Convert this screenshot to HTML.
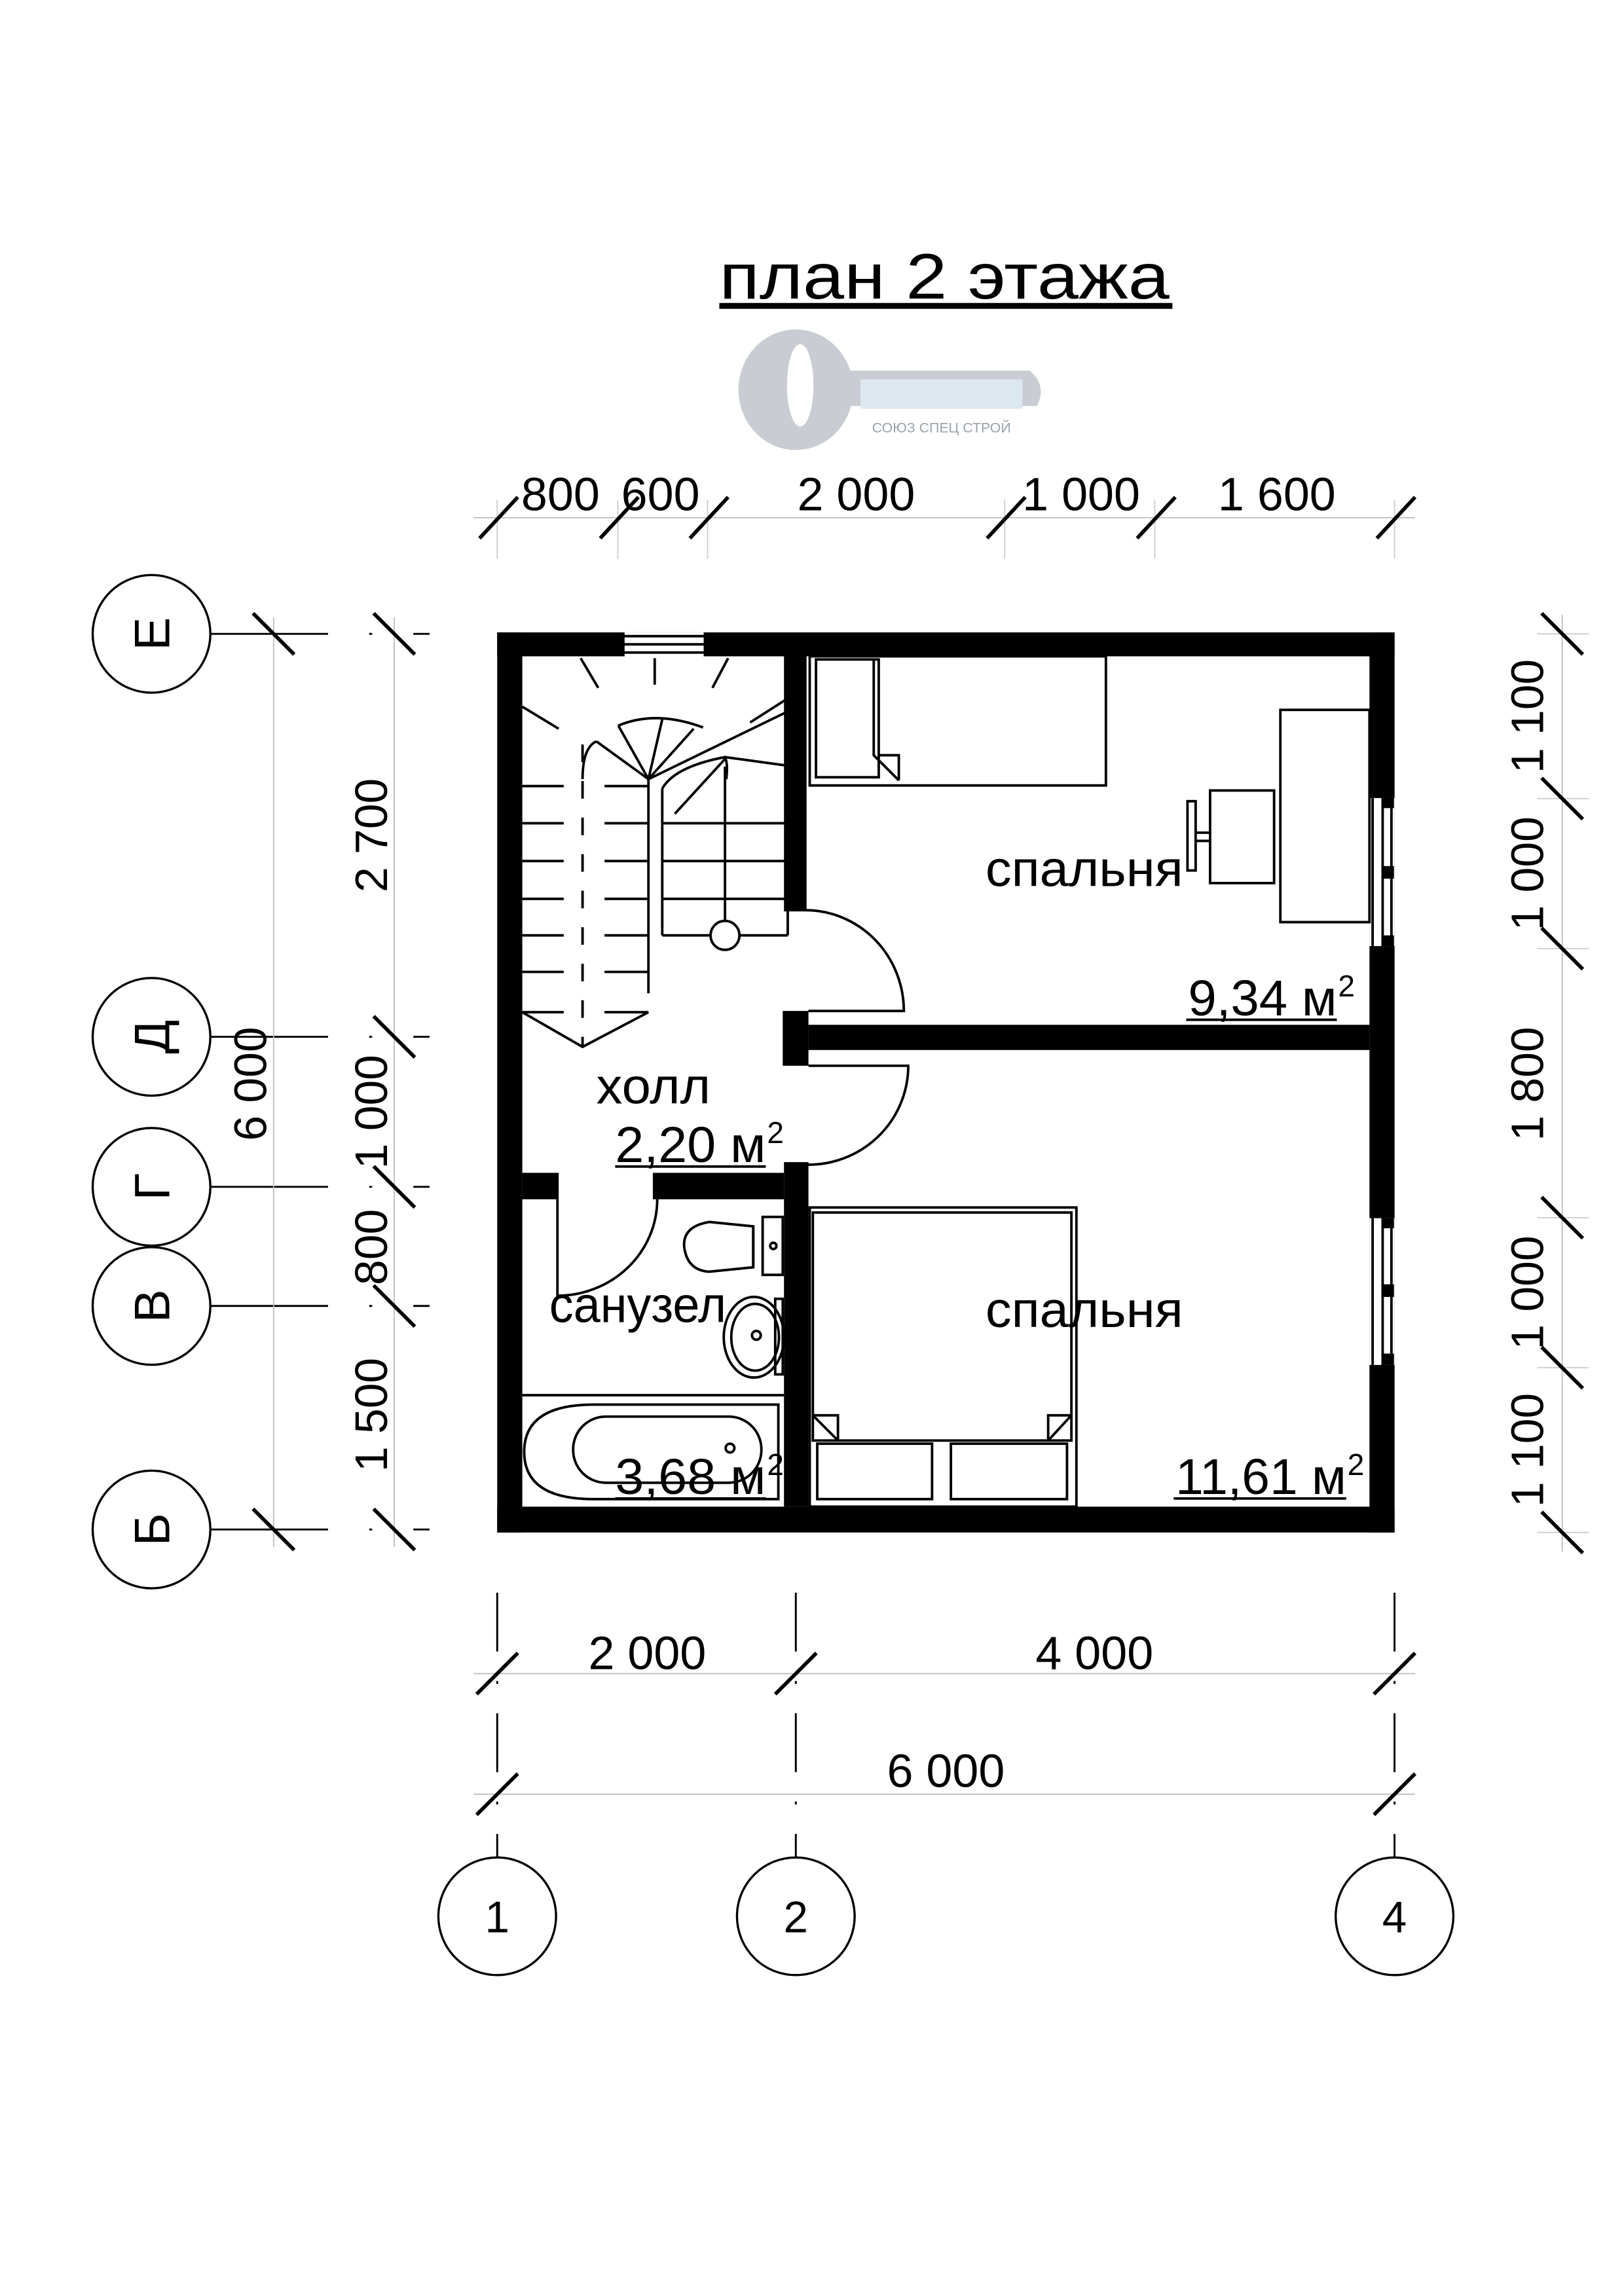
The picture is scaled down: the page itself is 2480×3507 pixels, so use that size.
<!DOCTYPE html>
<html><head><meta charset="utf-8"><style>html,body{margin:0;padding:0;background:#fff}svg{display:block}</style></head>
<body>
<svg width="2480" height="3507" viewBox="0 0 1104 1561.2" preserveAspectRatio="none" xmlns="http://www.w3.org/2000/svg" font-family="Liberation Sans, Arial, sans-serif">
<rect width="1104" height="1562" fill="#fff"/>
<!-- title -->
<text x="489" y="203" font-size="44" textLength="306" lengthAdjust="spacingAndGlyphs">план 2 этажа</text>
<rect x="489" y="206" width="308" height="4" fill="#000"/>
<!-- logo -->
<g fill="#c9cdd3">
<ellipse cx="541" cy="265" rx="39" ry="41"/>
<path d="M560 252 L700 252 Q712 262 705 276 L560 276 Z"/>
</g>
<ellipse cx="544" cy="262" rx="9" ry="28" fill="#fff"/>
<g fill="#dde7f0"><rect x="585" y="258" width="110" height="20"/></g>
<text x="640" y="294" font-size="9.5" fill="#9aa3ad" text-anchor="middle">СОЮЗ СПЕЦ СТРОЙ</text>
<!-- top dims -->
<line x1="322" y1="352" x2="962" y2="352" stroke="#bbb" stroke-width="0.8"/>
<g stroke="#ccc" stroke-width="0.8">
<line x1="338" y1="340" x2="338" y2="380"/><line x1="420" y1="340" x2="420" y2="380"/><line x1="481" y1="340" x2="481" y2="380"/><line x1="683" y1="340" x2="683" y2="380"/><line x1="785" y1="340" x2="785" y2="380"/><line x1="948" y1="340" x2="948" y2="380"/>
</g>
<g stroke="#000" stroke-width="2.5">
<line x1="326" y1="366" x2="352" y2="338"/><line x1="408" y1="366" x2="434" y2="338"/><line x1="469" y1="366" x2="495" y2="338"/><line x1="671" y1="366" x2="697" y2="338"/><line x1="773" y1="366" x2="799" y2="338"/><line x1="936" y1="366" x2="962" y2="338"/>
</g>
<g font-size="32" text-anchor="middle">
<text x="381" y="347">800</text><text x="449" y="347">600</text><text x="582" y="347">2 000</text><text x="735" y="347">1 000</text><text x="868" y="347">1 600</text>
</g>
<!-- left axes -->
<g stroke="#000" stroke-width="1.5" fill="#fff">
<circle cx="103" cy="431" r="40"/><circle cx="103" cy="705" r="40"/><circle cx="103" cy="807" r="40"/><circle cx="103" cy="888" r="40"/><circle cx="103" cy="1040" r="40"/>
</g>
<g stroke="#000" stroke-width="1.3" stroke-dasharray="80 28 2 28">
<line x1="143" y1="431" x2="292" y2="431"/><line x1="143" y1="705" x2="292" y2="705"/><line x1="143" y1="807" x2="292" y2="807"/><line x1="143" y1="888" x2="292" y2="888"/><line x1="143" y1="1040" x2="292" y2="1040"/>
</g>
<g stroke="#bbb" stroke-width="0.8"><line x1="186" y1="420" x2="186" y2="1052"/><line x1="268" y1="420" x2="268" y2="1052"/></g>
<g stroke="#000" stroke-width="2.5">
<line x1="172" y1="417" x2="200" y2="445"/><line x1="172" y1="1026" x2="200" y2="1054"/>
<line x1="254" y1="417" x2="282" y2="445"/><line x1="254" y1="691" x2="282" y2="719"/><line x1="254" y1="793" x2="282" y2="821"/><line x1="254" y1="874" x2="282" y2="902"/><line x1="254" y1="1026" x2="282" y2="1054"/>
</g>
<g font-size="34" text-anchor="middle">
<text transform="translate(115,431) rotate(-90)">Е</text>
<text transform="translate(115,705) rotate(-90)">Д</text>
<text transform="translate(115,807) rotate(-90)">Г</text>
<text transform="translate(115,888) rotate(-90)">В</text>
<text transform="translate(115,1040) rotate(-90)">Б</text>
</g>
<g font-size="31" text-anchor="middle">
<text transform="translate(181,737) rotate(-90)">6 000</text>
<text transform="translate(263,568) rotate(-90)">2 700</text>
<text transform="translate(263,756) rotate(-90)">1 000</text>
<text transform="translate(263,848) rotate(-90)">800</text>
<text transform="translate(263,962) rotate(-90)">1 500</text>
</g>
<!-- right dims -->
<line x1="1062" y1="418" x2="1062" y2="1055" stroke="#bbb" stroke-width="0.8"/>
<g stroke="#ccc" stroke-width="0.8">
<line x1="1045" y1="431" x2="1080" y2="431"/><line x1="1045" y1="543" x2="1080" y2="543"/><line x1="1045" y1="645" x2="1080" y2="645"/><line x1="1045" y1="828" x2="1080" y2="828"/><line x1="1045" y1="930" x2="1080" y2="930"/><line x1="1045" y1="1042" x2="1080" y2="1042"/>
</g>
<g stroke="#000" stroke-width="2.5">
<line x1="1048" y1="417" x2="1076" y2="445"/><line x1="1048" y1="529" x2="1076" y2="557"/><line x1="1048" y1="631" x2="1076" y2="659"/><line x1="1048" y1="814" x2="1076" y2="842"/><line x1="1048" y1="916" x2="1076" y2="944"/><line x1="1048" y1="1028" x2="1076" y2="1056"/>
</g>
<g font-size="31" text-anchor="middle">
<text transform="translate(1049,487) rotate(-90)">1 100</text>
<text transform="translate(1049,594) rotate(-90)">1 000</text>
<text transform="translate(1049,737) rotate(-90)">1 800</text>
<text transform="translate(1049,879) rotate(-90)">1 000</text>
<text transform="translate(1049,986) rotate(-90)">1 100</text>
</g>
<!-- bottom dims -->
<g stroke="#bbb" stroke-width="0.8"><line x1="322" y1="1138" x2="962" y2="1138"/><line x1="322" y1="1220" x2="962" y2="1220"/></g>
<g stroke="#000" stroke-width="1.3" stroke-dasharray="40 20 2 20">
<line x1="338" y1="1083" x2="338" y2="1263"/><line x1="541" y1="1083" x2="541" y2="1263"/><line x1="948" y1="1083" x2="948" y2="1263"/>
</g>
<g stroke="#000" stroke-width="2.5">
<line x1="324" y1="1152" x2="352" y2="1124"/><line x1="527" y1="1152" x2="555" y2="1124"/><line x1="934" y1="1152" x2="962" y2="1124"/>
<line x1="324" y1="1234" x2="352" y2="1206"/><line x1="934" y1="1234" x2="962" y2="1206"/>
</g>
<g font-size="32" text-anchor="middle">
<text x="440" y="1135">2 000</text><text x="744" y="1135">4 000</text><text x="643" y="1215">6 000</text>
</g>
<g stroke="#000" stroke-width="1.5" fill="#fff">
<circle cx="338" cy="1303" r="40"/><circle cx="541" cy="1303" r="40"/><circle cx="948" cy="1303" r="40"/>
</g>
<g font-size="30" text-anchor="middle"><text x="338" y="1314">1</text><text x="541" y="1314">2</text><text x="948" y="1314">4</text></g>

<!-- PLAN (zoom coords) -->
<g transform="translate(338,430) scale(0.4266,0.4283) translate(-57,-67)">
<g fill="#000">
<rect x="57" y="67" width="1430" height="38"/>
<rect x="57" y="1455" width="1430" height="41"/>
<rect x="57" y="67" width="40" height="1429"/>
<rect x="1447" y="67" width="40" height="1429"/>
<rect x="514" y="105" width="36" height="405"/>
<rect x="512" y="668" width="41" height="87"/>
<rect x="553" y="690" width="894" height="40"/>
<rect x="514" y="908" width="39" height="547"/>
<rect x="97" y="925" width="58" height="42"/>
<rect x="305" y="925" width="209" height="42"/>
</g>
<!-- windows -->
<rect x="258" y="67" width="130" height="38" fill="#fff"/>
<g stroke="#000" stroke-width="4" fill="none">
<line x1="258" y1="73" x2="388" y2="73"/><line x1="258" y1="86" x2="388" y2="86"/><line x1="258" y1="99" x2="388" y2="99"/>
<line x1="258" y1="67" x2="258" y2="105"/><line x1="388" y1="67" x2="388" y2="105"/>
</g>
<rect x="1447" y="330" width="40" height="235" fill="#fff"/>
<rect x="1447" y="997" width="40" height="233" fill="#fff"/>
<g stroke="#000" stroke-width="4" fill="none">
<line x1="1452" y1="330" x2="1452" y2="565"/><line x1="1468" y1="330" x2="1468" y2="565"/><line x1="1482" y1="330" x2="1482" y2="565"/>
<line x1="1452" y1="997" x2="1452" y2="1230"/><line x1="1468" y1="997" x2="1468" y2="1230"/><line x1="1482" y1="997" x2="1482" y2="1230"/>
</g>
<g fill="#000">
<rect x="1466" y="330" width="20" height="16"/><rect x="1466" y="438" width="20" height="20"/><rect x="1466" y="548" width="20" height="17"/>
<rect x="1466" y="997" width="20" height="16"/><rect x="1466" y="1102" width="20" height="20"/><rect x="1466" y="1212" width="20" height="18"/>
</g>
<!-- doors -->
<g stroke="#000" stroke-width="4" fill="none">
<path d="M548 508 A157 160 0 0 1 705 668 L553 668"/>
<path d="M553 755 L712 755 A159 157 0 0 1 548 912"/>
<path d="M153 967 L153 1120 A159 153 0 0 0 312 967"/>
</g>
<!-- stairs -->
<g stroke="#000" stroke-width="4" fill="none">
<line x1="190" y1="108" x2="218" y2="155"/><line x1="308" y1="108" x2="308" y2="150"/><line x1="425" y1="108" x2="400" y2="155"/>
<line x1="97" y1="185" x2="155" y2="220"/><line x1="515" y1="175" x2="460" y2="210"/>
<path d="M193 300 Q193 250 215 240"/>
<path d="M250 215 Q310 190 385 218"/>
<line x1="298" y1="300" x2="250" y2="215"/><line x1="298" y1="300" x2="215" y2="240"/><line x1="298" y1="300" x2="320" y2="205"/><line x1="298" y1="300" x2="370" y2="220"/>
<line x1="298" y1="300" x2="515" y2="195"/><line x1="420" y1="265" x2="515" y2="278"/><line x1="340" y1="355" x2="420" y2="268"/>
<path d="M320 315 Q340 280 420 265 Q425 275 422 300"/>
<line x1="298" y1="300" x2="298" y2="640"/>
<line x1="193" y1="245" x2="193" y2="725" stroke-dasharray="28 30"/>
<line x1="97" y1="311" x2="163" y2="311"/><line x1="228" y1="311" x2="298" y2="311"/>
<line x1="97" y1="370" x2="163" y2="370"/><line x1="228" y1="370" x2="298" y2="370"/>
<line x1="97" y1="430" x2="163" y2="430"/><line x1="228" y1="430" x2="298" y2="430"/>
<line x1="97" y1="490" x2="163" y2="490"/><line x1="228" y1="490" x2="298" y2="490"/>
<line x1="97" y1="548" x2="163" y2="548"/><line x1="228" y1="548" x2="298" y2="548"/>
<line x1="97" y1="606" x2="163" y2="606"/><line x1="228" y1="606" x2="298" y2="606"/>
<line x1="97" y1="670" x2="163" y2="670"/><line x1="228" y1="670" x2="298" y2="670"/>
<polyline points="97,670 193,725 298,670"/>
<line x1="320" y1="315" x2="320" y2="548"/>
<line x1="320" y1="370" x2="515" y2="370"/><line x1="320" y1="430" x2="515" y2="430"/><line x1="320" y1="490" x2="515" y2="490"/>
<line x1="320" y1="548" x2="398" y2="548"/><line x1="442" y1="548" x2="520" y2="548"/><line x1="520" y1="500" x2="520" y2="548"/>
<line x1="420" y1="280" x2="420" y2="525"/>
<circle cx="420" cy="548" r="23"/>
</g>
<!-- bed 1 -->
<g stroke="#000" stroke-width="4" fill="none">
<rect x="555" y="105" width="472" height="205"/>
<rect x="565" y="110" width="100" height="187"/>
<polyline points="657,110 657,262 697,302"/>
<polyline points="665,262 697,262 697,302"/>
<rect x="1305" y="190" width="142" height="337"/>
<rect x="1193" y="318" width="102" height="147"/>
<rect x="1157" y="335" width="13" height="110"/>
<line x1="1170" y1="385" x2="1193" y2="385"/><line x1="1170" y1="398" x2="1193" y2="398"/>
<!-- bed 2 -->
<rect x="555" y="980" width="425" height="475"/>
<rect x="560" y="988" width="412" height="362"/>
<rect x="567" y="1355" width="183" height="88"/>
<rect x="780" y="1355" width="185" height="88"/>
<polyline points="560,1310 600,1310 600,1350"/><line x1="560" y1="1310" x2="600" y2="1350"/>
<polyline points="972,1310 935,1310 935,1350"/><line x1="972" y1="1310" x2="935" y2="1350"/>
<!-- toilet -->
<rect x="480" y="995" width="32" height="92"/>
<path d="M465 1010 L395 1003 Q352 1010 355 1043 Q360 1080 395 1082 L465 1075 Z"/>
<line x1="465" y1="1010" x2="465" y2="1075"/>
<circle cx="497" cy="1041" r="5"/>
<!-- sink -->
<rect x="500" y="1125" width="12" height="120"/>
<ellipse cx="466" cy="1186" rx="48" ry="64"/>
<ellipse cx="468" cy="1186" rx="38" ry="53"/>
<circle cx="470" cy="1183" r="7"/>
<!-- bath -->
<line x1="97" y1="1278" x2="514" y2="1278"/>
<path d="M505 1293 L210 1293 Q100 1293 100 1368 Q100 1443 210 1443 L505 1443 Z"/>
<rect x="178" y="1312" width="300" height="105" rx="52"/>
<circle cx="428" cy="1362" r="7"/>
</g>
<!-- labels -->
<g font-size="80">
<text x="835" y="470" textLength="315" lengthAdjust="spacingAndGlyphs">спальня</text>
<text x="835" y="1170" textLength="315" lengthAdjust="spacingAndGlyphs">спальня</text>
<text x="215" y="815" textLength="182" lengthAdjust="spacingAndGlyphs">холл</text>
<text x="140" y="1162" textLength="282" lengthAdjust="spacingAndGlyphs">санузел</text>
<text x="1158" y="675" textLength="237" lengthAdjust="spacingAndGlyphs">9,34 м</text><text x="1397" y="645" font-size="48">2</text>
<text x="245" y="908" textLength="240" lengthAdjust="spacingAndGlyphs">2,20 м</text><text x="487" y="878" font-size="48">2</text>
<text x="245" y="1435" textLength="240" lengthAdjust="spacingAndGlyphs">3,68 м</text><text x="487" y="1405" font-size="48">2</text>
<text x="1138" y="1435" textLength="272" lengthAdjust="spacingAndGlyphs">11,61 м</text><text x="1412" y="1405" font-size="48">2</text>
</g>
<g fill="#000">
<rect x="1155" y="680" width="240" height="4"/>
<rect x="245" y="913" width="240" height="4"/>
<rect x="245" y="1440" width="240" height="4"/>
<rect x="1135" y="1440" width="275" height="4"/>
</g>
</g>
</svg>
</body></html>
